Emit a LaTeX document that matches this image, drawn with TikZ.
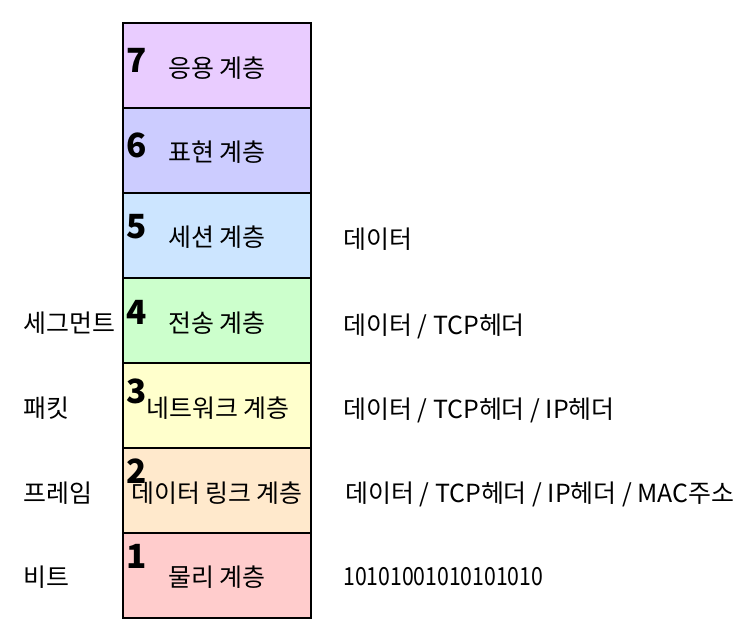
\documentclass[tikz,border=0pt]{standalone}
\usepackage{fontspec}
\usepackage{graphicx}
\setmainfont{Noto Sans CJK KR}
\usetikzlibrary{positioning}
\definecolor{appl}{HTML}{E9CCFF}
\definecolor{pres}{HTML}{CCCCFF}
\definecolor{sess}{HTML}{CCE5FF}
\definecolor{trans}{HTML}{CCFFCC}
\definecolor{netw}{HTML}{FFFFCC}
\definecolor{dlink}{HTML}{FFE9CC}
\definecolor{phys}{HTML}{FFCCCC}
\tikzset{
  layer/.style={
    rectangle,draw=black,line width=0.8pt,inner sep=0pt,outer sep=0pt,
    minimum width=141pt,minimum height=63.75pt
  },
  laynum/.style={font=\fontsize{25}{25}\selectfont\bfseries,inner sep=0pt},
  laytext/.style={font=\fontsize{18.7}{19}\selectfont,inner sep=0pt},
  sidetext/.style={font=\fontsize{18.7}{19}\selectfont,inner sep=0pt,anchor=west}
}
\begin{document}
\begin{tikzpicture}[x=0.75pt,y=-0.75pt,node distance=0pt]
  \useasboundingbox (0,0) rectangle (750,637);
  \fill[white] (0,0) rectangle (750,637);

  \node[layer,fill=appl,anchor=north west] (l7) at (123,23) {};
  \node[layer,fill=pres,below=of l7] (l6) {};
  \node[layer,fill=sess,below=of l6] (l5) {};
  \node[layer,fill=trans,below=of l5] (l4) {};
  \node[layer,fill=netw,below=of l4] (l3) {};
  \node[layer,fill=dlink,below=of l3] (l2) {};
  \node[layer,fill=phys,below=of l2] (l1) {};

  % layer numbers
  \node[laynum] (n7) at (137,60) {7};
  \node[laynum] (n6) at (137,145) {6};
  \node[laynum] (n5) at (137,227) {5};
  \node[laynum] (n4) at (137,312) {4};
  \node[laynum] (n3) at (137,391) {3};
  \node[laynum] (n2) at (137,471) {2};
  \node[laynum] (n1) at (137,556) {1};

  % layer names
  \node[laytext] (t7) at (217,68) {응용 계층};
  \node[laytext] (t6) at (217,152) {표현 계층};
  \node[laytext] (t5) at (217,237) {세션 계층};
  \node[laytext] (t4) at (217,323) {전송 계층};
  \node[laytext] (t3) at (218,408) {네트워크 계층};
  \node[laytext] (t2) at (217,493) {데이터 링크 계층};
  \node[laytext] (t1) at (217,577) {물리 계층};

  % units
  \node[sidetext] (u4) at (23,323) {세그먼트};
  \node[sidetext] (u3) at (23,408) {패킷};
  \node[sidetext] (u2) at (23,493) {프레임};
  \node[sidetext] (u1) at (23,577) {비트};

  % data
  \node[sidetext] (d5) at (343,239) {데이터};
  \node[sidetext] (d4) at (343,326) {데이터 / TCP헤더};
  \node[sidetext] (d3) at (343,410) {데이터 / TCP헤더 / IP헤더};
  \node[sidetext] (d2) at (345,494) {데이터 / TCP헤더 / IP헤더 / MAC주소};
  \node[sidetext] (d1) at (343,577) {\scalebox{0.85}[1]{10101001010101010}};
\end{tikzpicture}
\end{document}
